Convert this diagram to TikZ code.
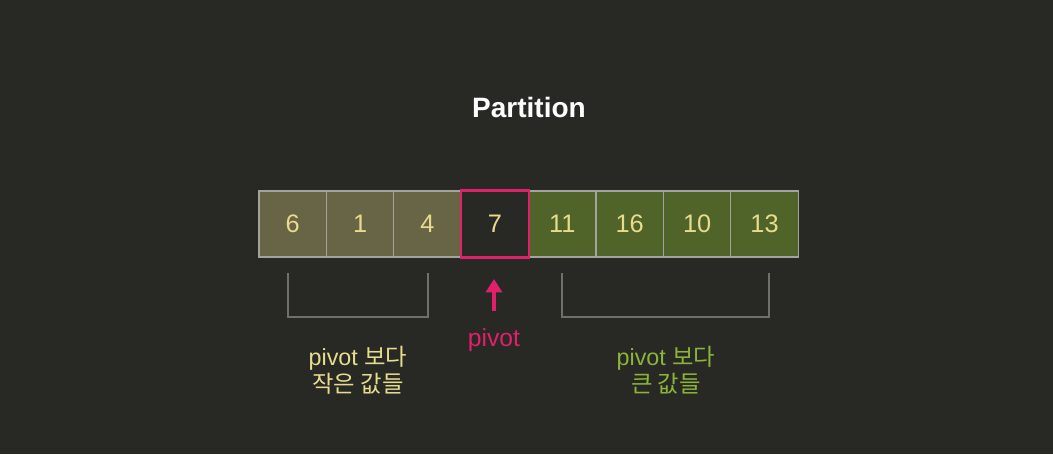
\documentclass[tikz,border=0pt]{standalone}
\usepackage{fontspec}
\usetikzlibrary{arrows.meta}
\setmainfont{Liberation Sans}
\newfontfamily\cjk{Noto Sans CJK KR}
\definecolor{bgdark}{HTML}{282824}
\definecolor{lowfill}{HTML}{686446}
\definecolor{highfill}{HTML}{50642A}
\definecolor{cellline}{HTML}{A4A49C}
\definecolor{pivred}{HTML}{E0206A}
\definecolor{numyel}{HTML}{E8DC8C}
\definecolor{lowtxt}{HTML}{E6DC8E}
\definecolor{hightxt}{HTML}{8CB43A}
\definecolor{brackgray}{HTML}{707068}
\begin{document}
\begin{tikzpicture}[
    x=0.75pt,y=-0.75pt,
    cell/.style={draw=cellline,line width=0.9pt,minimum width=50.6pt,minimum height=49.5pt,
        inner sep=0pt,text=numyel,font=\fontsize{19}{22}\selectfont},
    lowcell/.style={cell,fill=lowfill},
    highcell/.style={cell,fill=highfill},
    pivcell/.style={cell,fill=bgdark,draw=pivred},
    bracket/.style={brackgray,line width=0.9pt},
    label/.style={align=center,font=\fontsize{17.5}{20.3}\selectfont}]
    \def\cw{67.4}
    \def\cx{292.7}
    \def\cy{224}

    % canvas
    \fill[bgdark] (0,0) rectangle (1053,454);
    \useasboundingbox (0,0) rectangle (1053,454);

    \node[text=white,font=\fontsize{21}{24}\selectfont\bfseries] (title) at (529,107) {Partition};

    % array cells
    \foreach \v/\k [count=\i] in {6/lowcell,1/lowcell,4/lowcell,7/pivcell,11/highcell,16/highcell,10/highcell,13/highcell} {
        \node[\k] (c\i) at ({\cx+\cw*(\i-1)},\cy) {\v};
    }
    \draw[pivred,line width=1.4pt] (c4.south west) rectangle (c4.north east);

    % brackets
    \draw[bracket] (288,273) -- (288,317) -- (428,317) -- (428,273);
    \draw[bracket] (562,273) -- (562,317) -- (769,317) -- (769,273);

    % pivot arrow
    \coordinate (atail) at (494,311);
    \coordinate (ahead) at (494,279);
    \draw[pivred,line width=3pt,-{Triangle[length=10pt,width=12pt]}] (atail) -- (ahead);
    \node[text=pivred,font=\fontsize{18.5}{20.5}\selectfont] (pivlbl) at (494,340) {pivot};

    \node[label,text=lowtxt] (lowlbl) at (358,370) {pivot {\cjk 보다}\\{\cjk 작은 값들}};
    \node[label,text=hightxt] (highlbl) at (666,370) {pivot {\cjk 보다}\\{\cjk 큰 값들}};
\end{tikzpicture}
\end{document}
